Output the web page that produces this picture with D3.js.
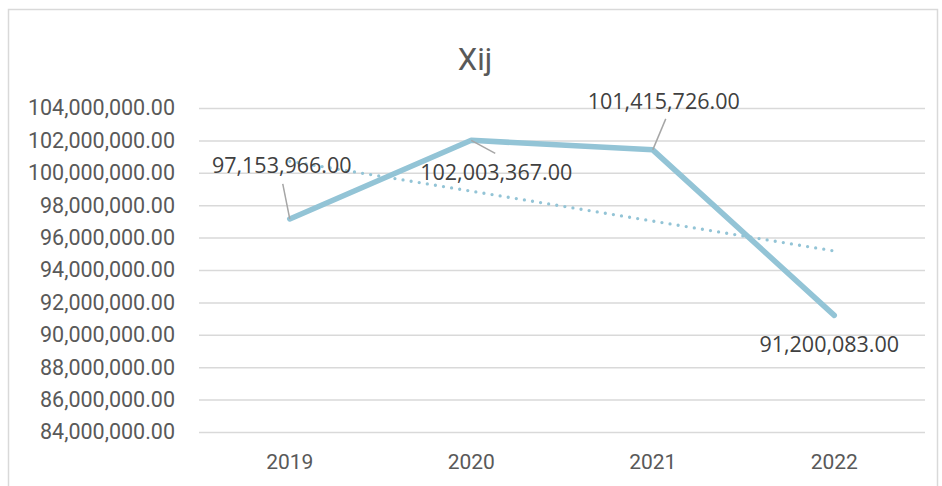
<!DOCTYPE html>
<html>
<head>
<meta charset="utf-8">
<script src="https://cdn.jsdelivr.net/npm/d3@7"></script>
<style>
  body { margin: 0; background: #fff; }
  svg { display: block; }
</style>
</head>
<body>
<div id="chart"></div>
<script>
// data
var years = ["2019", "2020", "2021", "2022"];
var values = [97153966, 102003367, 101415726, 91200083];
var yTicks = [84e6, 86e6, 88e6, 90e6, 92e6, 94e6, 96e6, 98e6, 100e6, 102e6, 104e6];

// label placement (pixel offsets from each point), and leader lines
var labelOffsets = [[-8, -46], [25, 40], [11, -41], [-5, 37]];
var leaders = [[[-7, -35], [0, 0]], [[0, 0], [24, 13]], [[0, 0], [13, -31]], null];

var fullWidth = 942, fullHeight = 486;
var margin = {top: 108, right: 17, bottom: 54, left: 199},
    width = fullWidth - margin.left - margin.right,
    height = fullHeight - margin.top - margin.bottom;

var textColor = "#595959",
    lineColor = "#93c4d6";

var fmt = d3.format(",.2f");

var svg = d3.select("#chart").append("svg")
    .attr("width", fullWidth)
    .attr("height", fullHeight);

// chart area border
svg.append("path")
    .attr("d", "M8.5," + fullHeight + "V9.5H937.5V" + fullHeight)
    .attr("fill", "none")
    .attr("stroke", "#d9d9d9")
    .attr("stroke-width", 1.5);

svg.append("text")
    .attr("x", 475)
    .attr("y", 70)
    .attr("text-anchor", "middle")
    .style("font-family", "Roboto, sans-serif")
    .style("font-size", "31px")
    .style("fill", textColor)
    .text("Xij");

var x = d3.scaleBand()
    .domain(years)
    .range([0, width]);

var y = d3.scaleLinear()
    .domain([84e6, 104e6])
    .range([height, 0]);

var g = svg.append("g")
    .attr("transform", "translate(" + margin.left + "," + margin.top + ")");

// y axis: gridlines + labels
var yAxis = d3.axisLeft(y)
    .tickValues(yTicks)
    .tickSize(-width)
    .tickPadding(24)
    .tickFormat(fmt);

g.append("g")
    .attr("class", "y axis")
    .call(yAxis)
    .call(function(a) {
        a.select(".domain").remove();
        a.selectAll(".tick line").attr("stroke", "#d9d9d9").attr("stroke-width", 1.5);
        a.selectAll(".tick text")
            .style("font-family", "Roboto, sans-serif")
            .style("font-size", "21.5px")
            .style("fill", textColor);
    });

var xAxis = d3.axisBottom(x).tickSize(0).tickPadding(22);

g.append("g")
    .attr("class", "x axis")
    .attr("transform", "translate(0," + height + ")")
    .call(xAxis)
    .call(function(a) {
        a.select(".domain").remove();
        a.selectAll(".tick text")
            .style("font-family", "Roboto, sans-serif")
            .style("font-size", "21px")
            .style("fill", textColor);
    });

function px(i) { return x(years[i]) + x.bandwidth() / 2; }

// linear trendline (least squares over category index)
var n = values.length,
    mx = d3.mean(values, function(d, i) { return i; }),
    my = d3.mean(values),
    slope = d3.sum(values, function(d, i) { return (i - mx) * (d - my); }) /
            d3.sum(values, function(d, i) { return (i - mx) * (i - mx); });
var trend = [0, n - 1].map(function(i) { return [px(i), y(my + slope * (i - mx))]; });

g.append("path")
    .attr("d", d3.line()(trend))
    .attr("fill", "none")
    .attr("stroke", lineColor)
    .attr("stroke-width", 3.3)
    .attr("stroke-linecap", "round")
    .attr("stroke-dasharray", "0,8.2");

var line = d3.line()
    .x(function(d, i) { return px(i); })
    .y(function(d) { return y(d); });

g.append("path")
    .datum(values)
    .attr("d", line)
    .attr("fill", "none")
    .attr("stroke", lineColor)
    .attr("stroke-width", 5.5)
    .attr("stroke-linejoin", "round")
    .attr("stroke-linecap", "round");

// leader lines
values.forEach(function(d, i) {
    if (!leaders[i]) return;
    var p = [px(i), y(d)];
    g.append("line")
        .attr("x1", p[0] + leaders[i][0][0]).attr("y1", p[1] + leaders[i][0][1])
        .attr("x2", p[0] + leaders[i][1][0]).attr("y2", p[1] + leaders[i][1][1])
        .attr("stroke", "#a6a6a6")
        .attr("stroke-width", 1.5);
});

// data labels
g.selectAll(".label")
    .data(values)
    .enter().append("text")
    .attr("class", "label")
    .attr("x", function(d, i) { return px(i) + labelOffsets[i][0]; })
    .attr("y", function(d, i) { return y(d) + labelOffsets[i][1]; })
    .attr("text-anchor", "middle")
    .style("font-family", "'Open Sans', sans-serif")
    .style("font-size", "21.5px")
    .style("fill", "#404040")
    .text(function(d) { return fmt(d); });
</script>
</body>
</html>
